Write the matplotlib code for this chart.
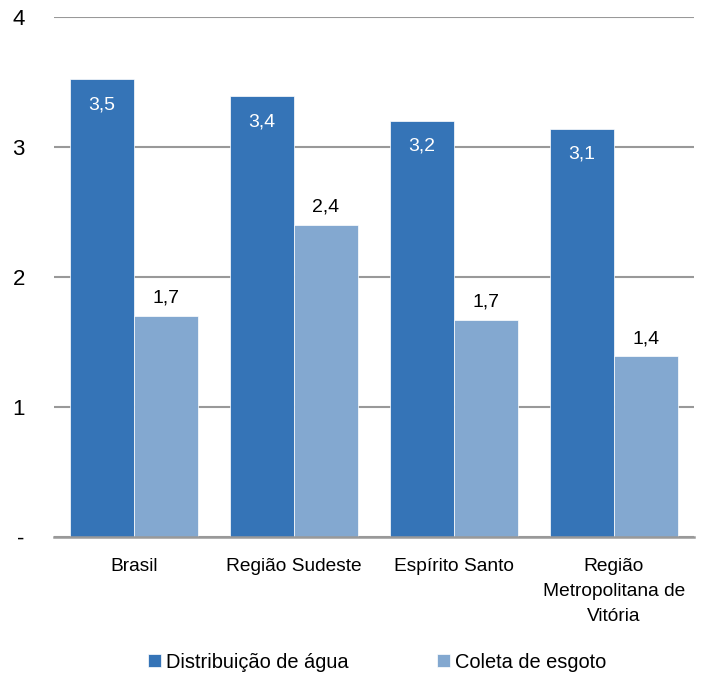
import numpy as np
import matplotlib.pyplot as plt

categories = ['Brasil', 'Região Sudeste', 'Espírito Santo', 'Região\nMetropolitana de\nVitória']
agua = [3.52, 3.39, 3.20, 3.14]
esgoto = [1.70, 2.40, 1.67, 1.39]
agua_labels = ['3,5', '3,4', '3,2', '3,1']
esgoto_labels = ['1,7', '2,4', '1,7', '1,4']
y_ticks = [0, 1, 2, 3, 4]
y_tick_labels = ['-', '1', '2', '3', '4']

plt.rcParams['font.family'] = ['Liberation Sans', 'DejaVu Sans']

dark = '#3574B7'
light = '#83A8D0'

fig = plt.figure(figsize=(7.04, 6.79), dpi=100)
ax = fig.add_axes([54 / 704, 1 - 537 / 679, 640 / 704, 520 / 679])

x = np.arange(len(categories))
w = 0.4
b1 = ax.bar(x - w / 2, agua, w, color=dark, edgecolor='white', linewidth=0.5,
            label='Distribuição de água', zorder=3)
b2 = ax.bar(x + w / 2, esgoto, w, color=light, edgecolor='white', linewidth=0.5,
            label='Coleta de esgoto', zorder=3)

for rect, lab in zip(b1, agua_labels):
    ax.text(rect.get_x() + rect.get_width() / 2, rect.get_height() - 0.13, lab,
            ha='center', va='top', color='white', fontsize=14, zorder=4)
for rect, lab in zip(b2, esgoto_labels):
    ax.text(rect.get_x() + rect.get_width() / 2, rect.get_height() + 0.07, lab,
            ha='center', va='bottom', color='black', fontsize=14, zorder=4)

ax.set_xlim(-0.5, 3.5)
ax.set_ylim(0, 4)
ax.set_yticks(y_ticks)
ax.set_yticklabels(y_tick_labels, fontsize=16)
ax.set_xticks(x)
ax.set_xticklabels(categories, fontsize=13.8, linespacing=1.62, va='top')
ax.tick_params(axis='y', length=0, pad=21)
ax.tick_params(axis='x', length=0, pad=15)
ax.yaxis.grid(True, color='#999999', linewidth=1.5, zorder=0)
for s in ['top', 'right', 'left']:
    ax.spines[s].set_visible(False)
ax.spines['bottom'].set_color('#999999')
ax.spines['bottom'].set_linewidth(1.8)
ax.spines['bottom'].set_zorder(5)

ax.legend(loc='center', bbox_to_anchor=(0.505, -0.241), ncol=2, frameon=False,
          fontsize=14.4, handlelength=0.65, handleheight=0.65, handletextpad=0.25,
          columnspacing=4.4)

plt.savefig('out.png', dpi=100)
plt.close()
